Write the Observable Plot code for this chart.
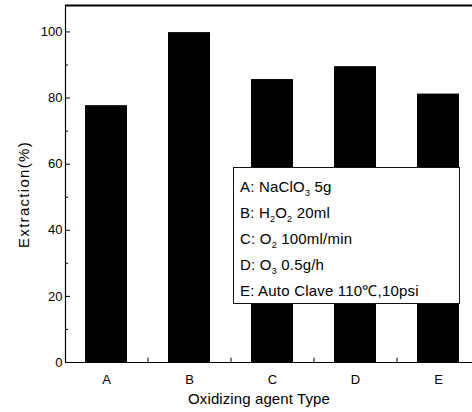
<!DOCTYPE html>
<html>
<head>
<meta charset="utf-8">
<script src="https://cdn.jsdelivr.net/npm/d3@7"></script>
<script src="https://cdn.jsdelivr.net/npm/@observablehq/plot@0.6"></script>
<style>
  body { margin: 0; background: white; }
  #wrap { position: relative; width: 472px; height: 412px; overflow: hidden; }
  #legend {
    position: absolute; left: 233px; top: 167px; width: 227px; height: 137px;
    box-sizing: border-box; border: 1px solid #111; background: white;
    padding: 7px 0 0 6px; font-family: "Liberation Sans", Arial, sans-serif;
    font-size: 15px; line-height: 24px; color: #000; letter-spacing: 0.2px;
  }
  #legend .s { font-size: 9px; position: relative; top: 4px; }
</style>
</head>
<body>
<div id="wrap"><div id="legend"></div></div>
<script>
const categories = ["A", "B", "C", "D", "E"];
const extraction = [77.7, 99.8, 85.6, 89.5, 81.2];
const yTicks = [0, 20, 40, 60, 80, 100];
const yMinorTicks = [10, 30, 50, 70, 90];
const legendLabels = [
  "A: NaClO<span class='s'>3</span> 5g",
  "B: H<span class='s'>2</span>O<span class='s'>2</span> 20ml",
  "C: O<span class='s'>2</span> 100ml/min",
  "D: O<span class='s'>3</span> 0.5g/h",
  "E: Auto Clave 110℃,10psi"
];
const xLabel = "Oxidizing agent Type";
const yLabel = "Extraction(%)";

const data = categories.map((c, i) => ({cat: c, val: extraction[i]}));

const chart = Plot.plot({
  width: 472,
  height: 412,
  marginLeft: 65,
  marginRight: 0,
  marginTop: 5,
  marginBottom: 50,
  style: {fontFamily: "'Liberation Sans', Arial, sans-serif", fontSize: "13px", background: "white", color: "black"},
  x: {domain: categories, range: [65, 480], paddingInner: 0.49, paddingOuter: 0.245, axis: null},
  y: {domain: [0, 108], axis: null},
  marks: [
    Plot.barY(data, {x: "cat", y: "val", fill: "#000"}),
    Plot.ruleY([108], {stroke: "#000", strokeWidth: 2}),
    Plot.ruleY([0], {stroke: "#000", strokeWidth: 1.2}),
    Plot.frame({anchor: "left", stroke: "#000", strokeWidth: 1.2}),
    Plot.axisY({ticks: yTicks, tickSize: -5, tickPadding: 8, label: null, fontSize: 13}),
    Plot.axisY({ticks: yMinorTicks, tickSize: -3, tickFormat: () => "", label: null}),
    Plot.ruleX(categories.slice(0, 4), {x: d => d, y1: 0, y2: 1.3, dx: 41.5, stroke: "#000"}),
    Plot.axisX({tickSize: 0, tickPadding: 12, label: null, fontSize: 13}),
    Plot.text([xLabel], {frameAnchor: "bottom", textAnchor: "middle", dy: 41, dx: -10, fontSize: 15}),
    Plot.text([yLabel], {frameAnchor: "left", textAnchor: "middle", rotate: -90, dx: -41, dy: 10.5, fontSize: 15})
  ]
});

d3.select(chart).selectAll("text")
  .filter(function() { return this.textContent === yLabel; })
  .style("letter-spacing", "1.3px");
d3.select(chart).selectAll("text")
  .filter(function() { return this.textContent === xLabel; })
  .style("letter-spacing", "0.1px");

const wrap = document.getElementById("wrap");
wrap.insertBefore(chart, wrap.firstChild);
document.getElementById("legend").innerHTML = legendLabels.map(l => `<div>${l}</div>`).join("");
</script>
</body>
</html>
